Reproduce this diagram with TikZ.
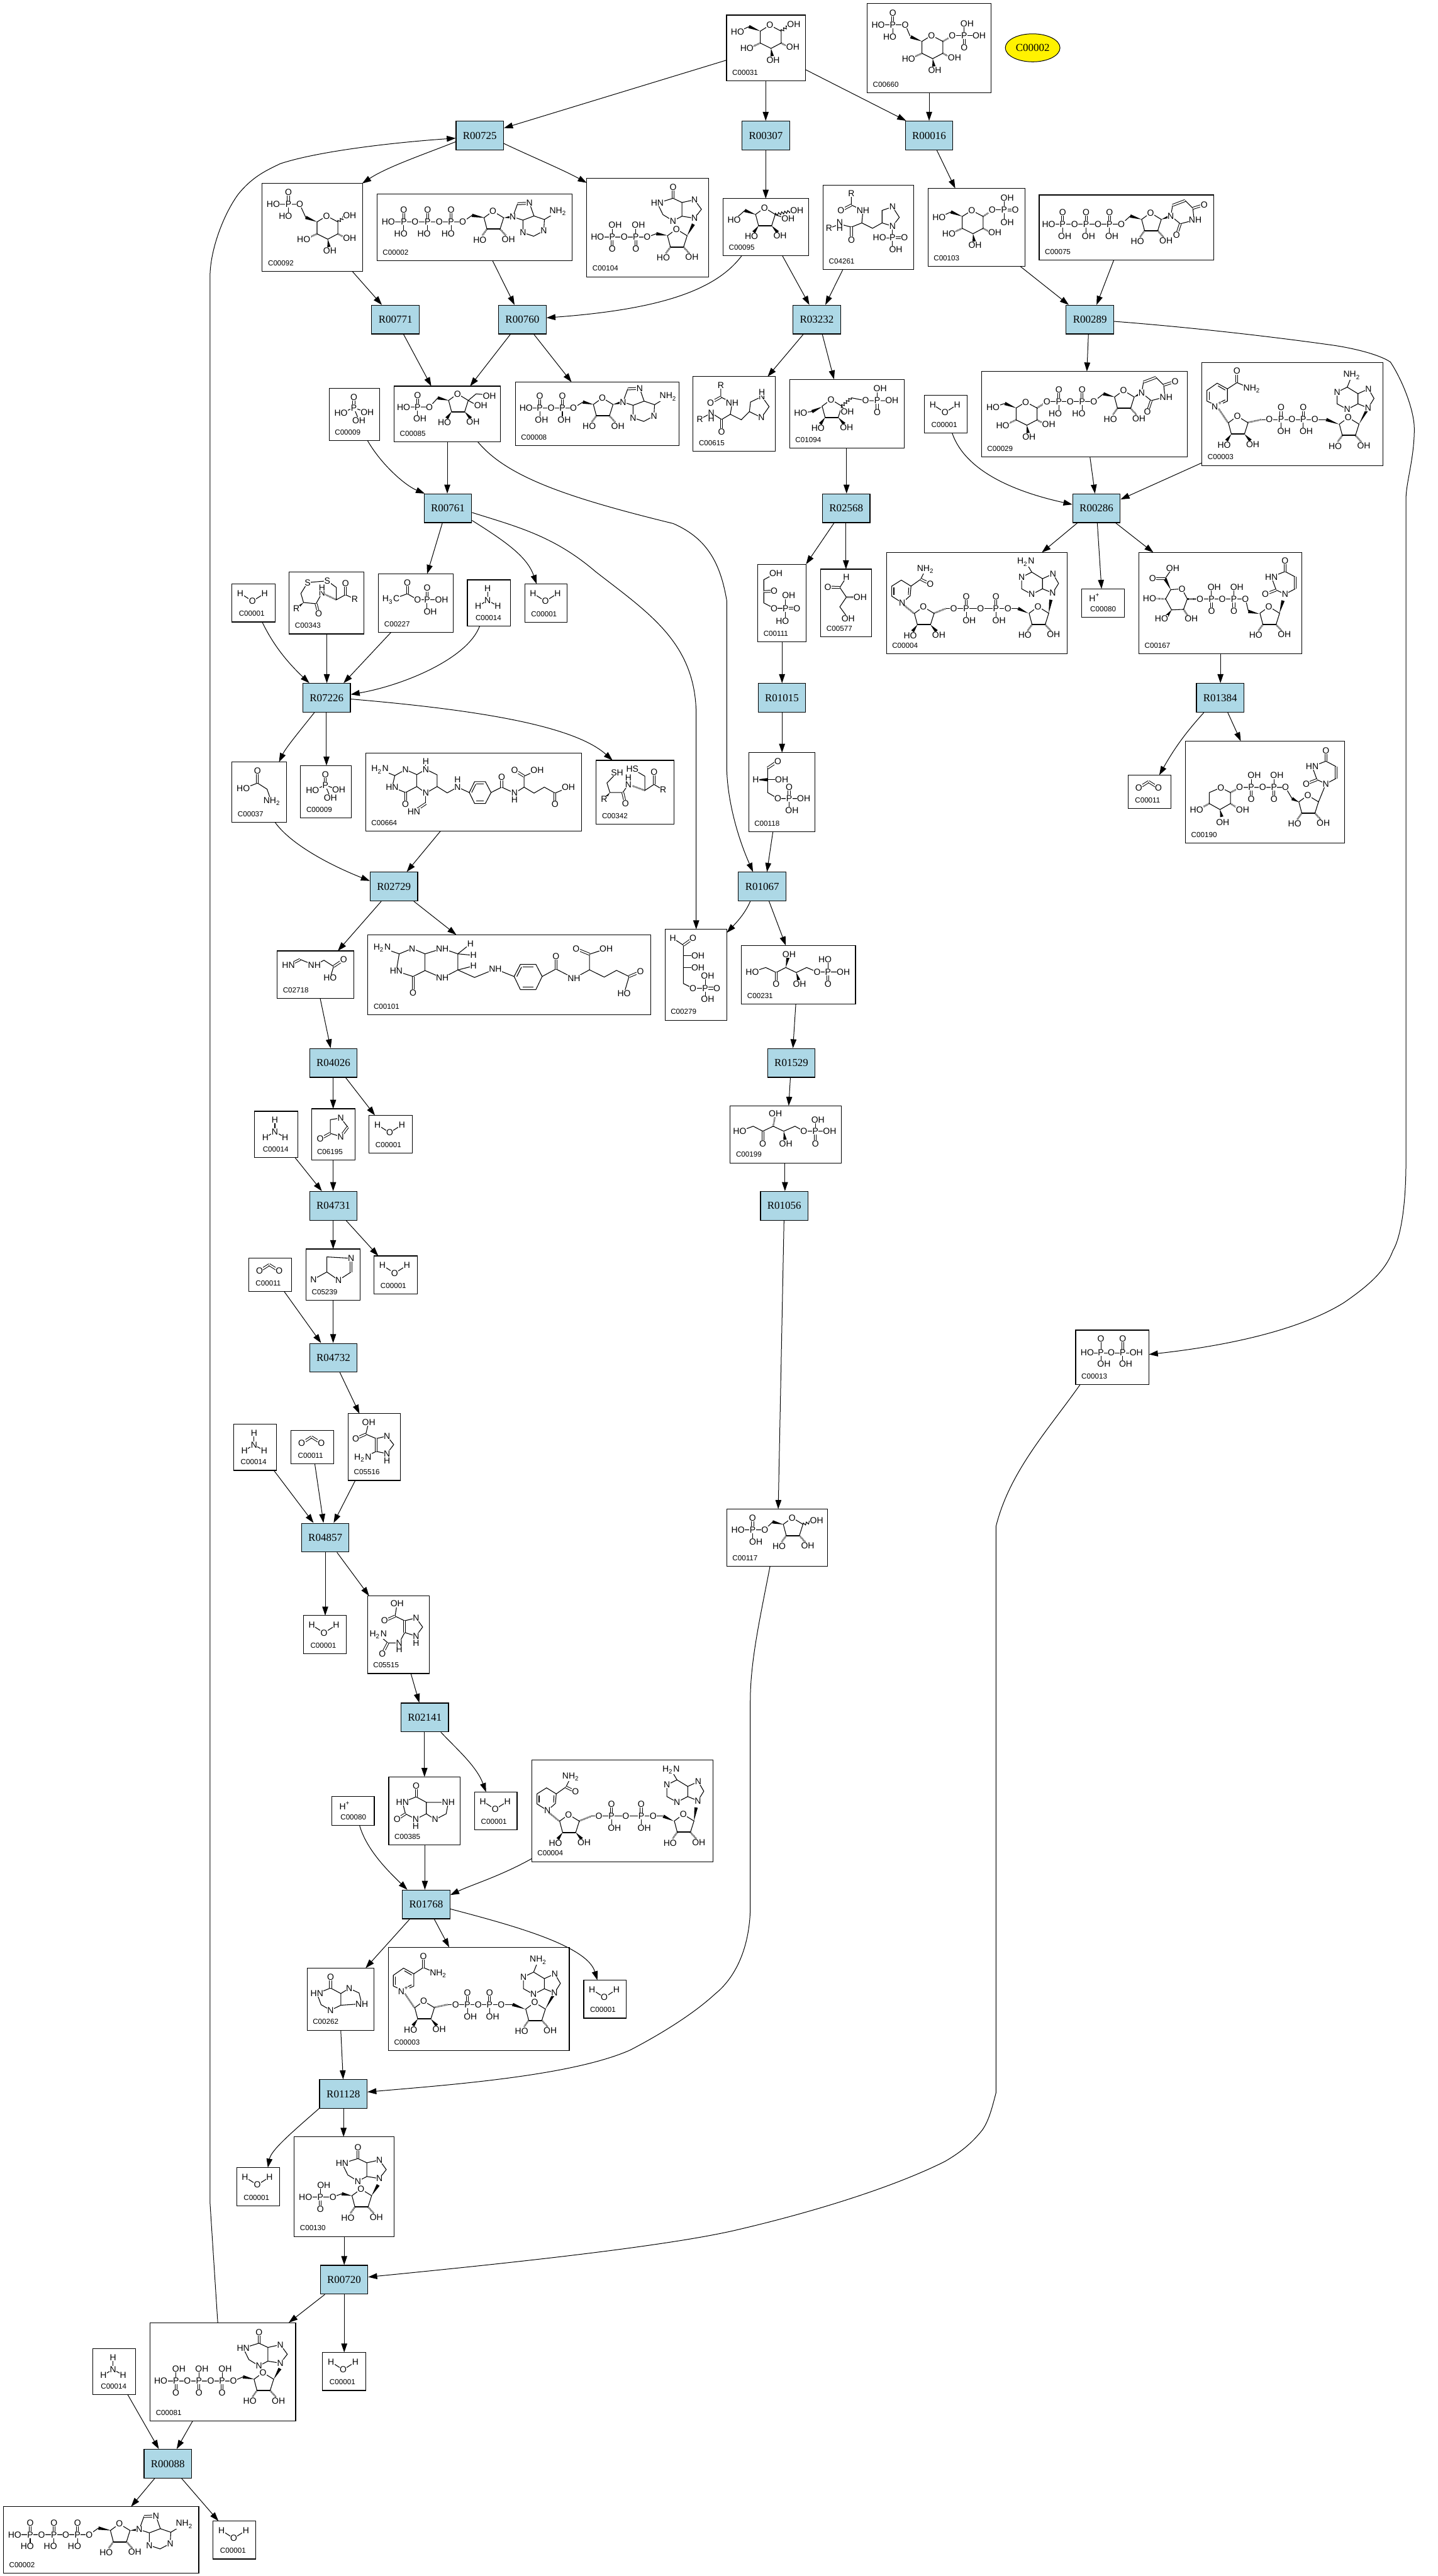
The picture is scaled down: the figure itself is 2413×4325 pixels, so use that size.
\documentclass[tikz,border=0pt]{standalone}
\usepackage{fontspec}
\setmainfont{Liberation Serif}
\newfontfamily\sansf{Liberation Sans}
\usetikzlibrary{arrows.meta,calc,shapes.geometric,decorations.pathmorphing}
\definecolor{rnblue}{HTML}{ADD8E6}
\tikzset{
	rn/.style = {rectangle, draw=black, fill=rnblue, line width=.35pt, inner sep=0, minimum width=.797cm, minimum height=.482cm, font=\fontsize{5.1}{6}\selectfont},
	cp/.style = {rectangle, draw=black, line width=.35pt, inner sep=0, outer sep=0},
	cl/.style = {anchor=west, inner sep=0, font=\fontsize{3.5}{4}\sansf},
	atm/.style = {fill=white, inner sep=.15pt, font=\fontsize{4.2}{5}\sansf},
	bd/.style = {line width=.32pt},
	dbd/.style = {line width=.3pt, double, double distance=.65pt},
	hb/.style = {line width=.8pt, dash pattern=on .2pt off .35pt},
	e/.style = {-{Triangle[length=1.5mm,width=1mm]}, line width=.3pt}
}
\newcounter{atomno}
\newcommand{\atm}[3]{\stepcounter{atomno}\node[atm] (atom\arabic{atomno}) at (#1,#2) {#3};}
\newcommand{\bnd}[1]{\draw[bd] #1;}
\newcommand{\dbnd}[1]{\draw[dbd] #1;}
\newcommand{\wbd}[2]{\fill (#1) -- ($(#2)!.8pt!90:(#1)$) -- ($(#2)!.8pt!-90:(#1)$) -- cycle;}
\newcommand{\hbd}[2]{\draw[hb] (#1) -- (#2);}
\newcommand{\wvy}[2]{\draw[bd,decorate,decoration={zigzag,segment length=1.5pt,amplitude=.6pt}] (#1) -- (#2);}
\newcommand{\ntwo}{NH\textsubscript{2}}
\newcommand{\htwon}{H\textsubscript{2}N}
% === === === Fragments === === ===
\newcommand{\pup}[4]{\dbnd{(#1,#2)--(#1,#2-19)}\bnd{(#1,#2)--(#1,#2+18)}\atm{#1}{#2}{P}\atm{#1}{#2-20}{O}\atm{#1+#3}{#2+20}{#4}}
\newcommand{\pdn}[3]{\dbnd{(#1,#2)--(#1,#2+19)}\bnd{(#1,#2)--(#1,#2-18)}\atm{#1}{#2}{P}\atm{#1}{#2+20}{O}\atm{#1+#3}{#2-20}{OH}}
\newcommand{\fur}[3]{\begin{scope}[shift={(#1,#2)}]
	\bnd{(0,0)--(-15,11)--(-10,30)--(12,30)--(18,11)--cycle}
	\draw[line width=.6pt] (-10,30)--(12,30);
	#3{-10,30}{-18,41} #3{12,30}{22,41}
	\atm{0}{0}{O}\atm{-22}{48}{HO}\atm{26}{47}{OH}
	\end{scope}}
\newcommand{\hx}[2]{\begin{scope}[shift={(#1,#2)}]
	\bnd{(0,0)--(19,10)--(19,30)--(2,39)--(-16,30)--(-16,10)--cycle}
	\wbd{-16,10}{-35,2.4} \hbd{-16,30}{-29,36} \hbd{19,30}{30,36} \wbd{2,39}{4,52}
	\atm{0}{0}{O}\atm{-38.5}{39}{HO}\atm{38.7}{37}{OH}\atm{5.5}{58.4}{OH}
	\end{scope}}
\newcommand{\adnh}[2]{\begin{scope}[shift={(#1,#2)}]
	\bnd{(0,0)--(8,-22)} \dbnd{(8,-22)--(28,-23)}
	\bnd{(28,-23)--(35.5,-1.5)--(17,5.5)--(0,0)}
	\bnd{(35.5,-1.5)--(53,4.5)--(52,23.5)--(35,32.5)--(17,26.5)--(17,5.5)}
	\bnd{(53,4.5)--(72,-7)}
	\atm{0}{0}{N}\atm{28}{-23}{N}\atm{52}{23.5}{N}\atm{17}{26.5}{N}\atm{76}{-9}{\ntwo}
	\end{scope}}
\newcommand{\adnv}[5]{\begin{scope}[shift={(#1,#2)}]
	\bnd{(0,0)--(10,-16)--(.6,-32)--(-17,-24)--(-17,-7)--cycle}
	\bnd{(-17,-24)--(-35,-35)--(-52,-26.6)--(-52,-7)--(-35,2.4)--(-17,-7)}
	\bnd{(-35,-35)--(#3,#4)}
	\atm{0}{0}{N}\atm{.6}{-32}{N}\atm{-35}{2.4}{N}\atm{-52}{-26.6}{N}\atm{#3}{#4}{#5}
	\end{scope}}
\newcommand{\hyp}[2]{\begin{scope}[shift={(#1,#2)}]
	\dbnd{(-36,-52)--(-36,-33.5)}
	\bnd{(-36,-33.5)--(-62.4,-25.3)--(-53,-6)--(-36,4.5)--(-21,-3.4)--(-21,-26.4)--cycle}
	\bnd{(-21,-26.4)--(0,-31)--(11.6,-15)--(0,0)--(-21,-3.4)}
	\atm{-36}{-52}{O}\atm{-62.4}{-25.3}{HN}\atm{-36}{4.5}{N}\atm{0}{-31}{N}\atm{0}{0}{N}
	\end{scope}}
\newcommand{\ura}[2]{\begin{scope}[shift={(#1,#2)}]
	\bnd{(0,0)--(3,-18)} \dbnd{(3,-18)--(24,-26)}
	\bnd{(24,-26)--(37,-13)--(39,7)--(16,13)--(0,0)}
	\dbnd{(37,-13)--(56,-19)} \dbnd{(16,13)--(9.6,32)}
	\atm{0}{0}{N}\atm{56}{-19}{O}\atm{41}{7}{NH}\atm{9.6}{32}{O}
	\end{scope}}
\newcommand{\urb}[2]{\begin{scope}[shift={(#1,#2)}]
	\bnd{(0,0)--(-15,-7)--(-23,-29)--(0,-38)--(17,-29)} \dbnd{(17,-29)--(17,-9)}
	\bnd{(17,-9)--(0,0)}
	\dbnd{(-15,-7)--(-33,0)} \dbnd{(0,-38)--(0,-56)}
	\atm{0}{0}{N}\atm{-33}{0}{O}\atm{-23}{-29}{HN}\atm{0}{-56}{O}
	\end{scope}}
% === === === Molecules === === ===
\newcommand{\mWat}{\bnd{(14,16)--(34.5,29)--(55,16)}\atm{14}{16}{H}\atm{34.5}{29}{O}\atm{55}{16}{H}}
\newcommand{\mAmm}{\bnd{(34,15)--(34,34.5)} \bnd{(18,44)--(34,34.5)--(51,44)}\atm{34}{15}{H}\atm{34}{34.5}{N}\atm{18}{44}{H}\atm{51}{44}{H}}
\newcommand{\mCot}{\dbnd{(18,21.5)--(34.5,11)}\dbnd{(34.5,11)--(51,21.5)}\atm{18}{21.5}{O}\atm{51}{21.5}{O}}
\newcommand{\mHp}{\atm{22}{15}{H\textsuperscript{+}}}
\newcommand{\mPi}{\dbnd{(41.5,15)--(41.5,33)}\bnd{(20,42)--(41.5,33)--(64,41)}\bnd{(41.5,33)--(50,54)}
	\atm{41.5}{15}{O}\atm{41.5}{33}{P}\atm{20}{42}{HO}\atm{64}{41}{OH}\atm{50}{54}{OH}}
\newcommand{\mAtp}{\bnd{(19,47)--(144,47)--(159.5,36)} \wbd{180.6,40}{159.5,36}
	\pup{45}{47}{-5}{HO}\pup{85}{47}{-6}{HO}\pup{124.4}{47}{-5}{HO}
	\atm{19}{47}{HO}\atm{64}{47}{O}\atm{104.6}{47}{O}\atm{144}{47}{O}
	\fur{194.6}{29}{\hbd} \wbd{213,40}{228,38.5} \adnh{228}{38.5}}
\newcommand{\mAdp}{\bnd{(18,43.6)--(97.6,43.6)--(113.5,33.5)} \wbd{131,37.6}{113.5,33.5}
	\pup{41}{43.6}{3}{OH}\pup{79}{43.6}{3}{OH}
	\atm{18}{43.6}{HO}\atm{60}{43.6}{O}\atm{97.6}{43.6}{O}
	\fur{146}{26.6}{\hbd} \wbd{164,37.6}{180.7,33.5} \adnh{180.7}{33.5}}
\newcommand{\mIdp}{\bnd{(18,98.7)--(101.4,98.7)--(116.8,93)} \wbd{135.5,96}{116.8,93}
	\pdn{42.7}{98.7}{5}\pdn{82.3}{98.7}{4.5}
	\atm{18}{98.7}{HO}\atm{63}{98.7}{O}\atm{101.4}{98.7}{O}
	\fur{150.5}{85.4}{\hbd} \wbd{168.5,96.4}{179,77} \hyp{180.9}{67}}
\newcommand{\mImp}{\bnd{(19,101)--(65,101)--(80,95.6)} \wbd{97,99}{80,95.6}
	\pdn{44}{101}{5.8}
	\atm{19}{101}{HO}\atm{65}{101}{O}
	\fur{112}{87.8}{\hbd} \wbd{130,98.8}{141,80.8} \hyp{143}{70}}
\newcommand{\mItp}{\bnd{(18,98)--(140,98)--(156,91)} \wbd{174.5,95}{156,91}
	\pdn{43.4}{98}{5}\pdn{82}{98}{5}\pdn{121}{98}{5}
	\atm{18}{98}{HO}\atm{62.5}{98}{O}\atm{102}{98}{O}\atm{140}{98}{O}
	\fur{189.5}{84}{\hbd} \wbd{207.5,95}{218,77} \hyp{218.8}{68}}
\newcommand{\mGlc}{\bnd{(37.7,19.4)--(18.5,28.5)}\hx{72.7}{17}\wvy{91.7,27}{104,18}\atm{18.5}{28.5}{HO}\atm{113}{16}{OH}}
\newcommand{\mGsx}{\bnd{(18.5,35)--(63,35)--(73,57)}\pup{44}{35}{-5}{HO}\atm{18.5}{35}{HO}\atm{63}{35}{O}
	\hx{108}{54.6}\wvy{127,64.6}{138,56}\atm{146.7}{53.7}{OH}}
\newcommand{\mGop}{\bnd{(18.5,36)--(64,36)--(72,55)}\pup{43}{36}{-5}{HO}\atm{18.5}{36}{HO}\atm{64}{36}{O}
	\hx{108}{54}\hbd{127,64}{141,56}\bnd{(142.8,54.6)--(188,54.6)}\pdn{162.8}{54.6}{5}\atm{142.8}{54.6}{O}\atm{188}{54.6}{OH}}
\newcommand{\mGip}{\bnd{(38.6,39.4)--(18.6,49)}\hx{73.6}{37}\hbd{92.6,47}{106,38}
	\bnd{(107.8,36)--(128,36)}\dbnd{(128,36)--(146.6,36)}\bnd{(128,36)--(128,18)}\bnd{(128,36)--(128,55)}
	\atm{18.6}{49}{HO}\atm{107.8}{36}{O}\atm{128}{36}{P}\atm{146.6}{36}{O}\atm{133}{15.6}{OH}\atm{133}{57.4}{OH}}
\newcommand{\mFru}{\bnd{(18.5,36)--(36.4,20)}\wbd{55,27}{36.4,20}\fur{69.5}{15.6}{\wbd}\wvy{87,27}{114,21}\bnd{(87,27)--(105,33)}
	\atm{18.5}{36}{HO}\atm{123.8}{20}{OH}\atm{109}{34}{OH}}
\newcommand{\mFsx}{\bnd{(16,35)--(59.3,35)--(73.4,19.7)}\wbd{92,24}{73.4,19.7}\pup{39.5}{35}{3.9}{OH}\atm{16}{35}{HO}\atm{59.3}{35}{O}
	\fur{106.5}{12.9}{\wbd}\bnd{(124.5,24)--(137.7,12.9)--(150,14)}\bnd{(124.5,24)--(137,31)}\atm{160}{16}{OH}\atm{145.5}{32.6}{OH}}
\newcommand{\mFop}{\bnd{(18.6,56)--(37.6,54.2)}\wbd{54.6,46}{37.6,54.2}\fur{69.6}{34}{\wbd}
	\wvy{87.6,45}{103.6,31}\bnd{(103.6,31)--(127.6,35.8)--(171.6,35.8)}\bnd{(87.6,45)--(92,52)}\pdn{147}{35.8}{5}
	\atm{18.6}{56}{HO}\atm{97}{54}{OH}\atm{127.6}{35.8}{O}\atm{171.6}{35.8}{OH}}
\newcommand{\mUtp}{\bnd{(16,49)--(138,49)--(153,35.3)}\wbd{172,41}{153,35.3}
	\pup{39.5}{49}{3.5}{OH}\pup{78.8}{49}{4}{OH}\pup{118}{49}{4}{OH}
	\atm{16}{49}{HO}\atm{59.4}{49}{O}\atm{98.8}{49}{O}\atm{138}{49}{O}
	\fur{187}{30}{\hbd}\wbd{205,41}{221,35.3}\ura{221}{35.3}}
\newcommand{\mUdg}{\bnd{(110,50.5)--(188.6,50.5)--(204.8,37.6)}\bnd{(39,53.8)--(19.4,60.6)}\wbd{223.4,43}{204.8,37.6}
	\hx{74.3}{51.4}\hbd{93.3,61.4}{108,52}
	\pup{130}{50.5}{-6}{HO}\pup{169}{50.5}{-5.6}{HO}
	\atm{19.4}{60.6}{HO}\atm{110}{50.5}{O}\atm{149}{50.5}{O}\atm{188.6}{50.5}{O}
	\fur{238.4}{32}{\hbd}\wbd{256.4,43}{269,36}\ura{269}{36}}
\newcommand{\mNad}{\bnd{(8.3,47)--(25.5,35)--(42.7,44.5)--(42.7,65)--(25.5,73)--(8.3,65)--cycle}
	\bnd{(12,49)--(12,63)}\bnd{(27,39.5)--(39,46.5)}\bnd{(39,63)--(29,68)}
	\bnd{(42.7,44.5)--(58.7,34)--(80,43)}\dbnd{(58.7,34)--(58.7,15)}
	\atm{58.7}{14.7}{O}\atm{84}{44.5}{\ntwo}\atm{25.5}{73}{N\textsuperscript{+}}
	\hbd{28,78}{43.4,101}\fur{59.3}{90.4}{\wbd}
	\hbd{77,101}{100,96}\bnd{(100,96)--(208.6,96)}\wbd{230,104}{208.6,96}
	\pup{132.7}{96}{5}{OH}\pup{170}{96}{5}{OH}\atm{113}{96}{O}\atm{151}{96}{O}\atm{189.5}{96}{O}
	\fur{245.6}{92.7}{\hbd}\wbd{263.6,103.7}{278.8,76.6}\adnv{278.8}{76.6}{-27}{-55}{\ntwo}}
\newcommand{\mNadh}{\bnd{(9,56.5)--(25,46.4)--(41.3,56.5)--(40,72.5)--(26.5,84.5)--(9,73.4)--cycle}
	\bnd{(12.5,59)--(12.5,71)}\bnd{(37.5,59)--(36.8,71)}
	\bnd{(41.3,56.5)--(57.5,45)--(64,32)}\dbnd{(57.5,45)--(73.6,52.8)}
	\atm{65.9}{28}{\ntwo}\atm{73.6}{52.8}{O}\atm{26.5}{84.5}{N}
	\hbd{29,88}{46,102}\fur{62}{91.3}{\wbd}
	\hbd{80,102}{100,94}\bnd{(100,94)--(221,94)}\wbd{238,102}{221,94}
	\pup{134}{94}{5}{OH}\pup{184}{94}{5}{OH}\atm{113}{94}{O}\atm{158}{94}{O}\atm{204}{94}{O}
	\fur{254.5}{91}{\hbd}\wbd{272.5,102}{276,79.4}\adnv{279}{68}{-45}{-52}{\htwon}}
\newcommand{\mUga}{\bnd{(53.6,62.4)--(72.4,61)--(81.4,78)--(75,95.5)--(55,96.4)--(45,78)--cycle}
	\wbd{53.6,62.4}{44,44}\bnd{(44,44)--(53,31)}\dbnd{(44,44)--(23,43.6)}\hbd{45,78}{29,77.5}\wbd{55,96.4}{47,107}\hbd{75,95.5}{82,106}
	\atm{72.4}{61}{O}\atm{57}{26.6}{OH}\atm{23}{43.6}{O}\atm{18}{77}{HO}\atm{38}{111}{HO}\atm{88}{111.5}{OH}
	\hbd{81.4,78}{100,78}\bnd{(102,78)--(179,78)--(184,99)}\wbd{202,103}{184,99}
	\pdn{122}{78}{4.6}\pdn{159.6}{78}{5}\atm{102.7}{78}{O}\atm{140}{78}{O}\atm{179}{78}{O}
	\fur{218.3}{91}{\hbd}\wbd{236,102}{242,80.8}\urb{245.5}{70}}
\newcommand{\mUdx}{\bnd{(59.4,78)--(40,86.3)--(40,104.7)--(58,114.8)--(75.6,104.7)--(75.6,86.3)--cycle}
	\hbd{40,104.7}{27,112}\hbd{75.6,104.7}{87,112}\wbd{58,114.8}{61,127}
	\atm{59.4}{78}{O}\atm{18.7}{115.2}{HO}\atm{96}{115.2}{OH}\atm{62.7}{135.9}{OH}
	\hbd{75.6,86.3}{89,79}\bnd{(91,77.6)--(168,77.6)--(179,96.4)}\wbd{190.6,102.4}{179,96.4}
	\pdn{110.5}{77.6}{5}\pdn{148.6}{77.6}{5}\atm{91}{77.6}{O}\atm{129.8}{77.6}{O}\atm{168}{77.6}{O}
	\fur{205.4}{90.9}{\hbd}\bnd{(223.4,102)--(235.8,71.6)}\urb{235.8}{71.6}}
\newcommand{\mRibp}{\bnd{(19,35)--(64,35)--(77,21.6)}\wbd{95,26}{77,21.6}\pup{43.5}{35}{5.5}{OH}\atm{19}{35}{HO}\atm{64}{35}{O}
	\fur{110}{14.7}{\hbd}\wvy{128,26}{144,21}\atm{151}{19.8}{OH}}
\newcommand{\mPpi}{\bnd{(19.4,38)--(101.6,38)}\dbnd{(79,38)--(79,15)}\bnd{(42.3,38)--(42.3,15)}\bnd{(42.3,38)--(42.3,55)}\bnd{(79,38)--(79,55)}
	\atm{19.4}{38}{HO}\atm{42.3}{38}{P}\atm{42.3}{14.7}{O}\atm{47.4}{56.7}{OH}\atm{59.6}{38}{O}\atm{79}{38}{P}\atm{79}{14.7}{O}\atm{101.6}{38}{OH}\atm{84}{56.7}{OH}}
\newcommand{\mAhis}{\bnd{(46.6,15)--(46.6,34.4)--(65.6,44)--(62.5,63.3)--(47.9,72)--(30.6,61)--(11.5,71.6)}
	\dbnd{(46.6,34.4)--(29.3,44)}\dbnd{(47.9,72)--(47.9,92)}
	\bnd{(62.5,63.3)--(81,72.5)--(94.5,58.8)--(96.4,42.7)--(115.5,33.5)--(127.6,50.5)--(114.8,68.8)--(94.5,58.8)}\bnd{(115.5,33.5)--(115.5,27)}
	\atm{46.6}{15}{R}\atm{29.3}{44}{O}\atm{65.6}{44}{NH}\atm{30.6}{61}{N}\atm{30.6}{71}{H}\atm{11.5}{71.6}{R}\atm{47.9}{92.3}{O}
	\atm{115.5}{33.5}{N}\atm{115.5}{26.6}{H}\atm{114.8}{68.8}{N}}
\newcommand{\mPhis}{\bnd{(47.5,13.3)--(47.5,33)--(67,42)--(65,63)--(47.5,70)--(28,65)--(10,72)}
	\dbnd{(47.5,33)--(30,42)}\dbnd{(47.5,70)--(47.5,92)}
	\bnd{(65,63)--(83,72)--(99,63)--(99,42)--(116.6,36)--(128,53.7)--(116.6,68.4)--(99,63)}
	\bnd{(116.6,68.4)--(116.6,108)}\bnd{(94.7,88)--(116.6,88)}\dbnd{(116.6,88)--(136.7,88)}
	\atm{47.5}{13.3}{R}\atm{30}{42}{O}\atm{67}{42}{NH}\atm{28}{62}{N}\atm{28}{72}{H}\atm{10}{72}{R}\atm{47.5}{92}{O}
	\atm{116.6}{36}{N}\atm{116.6}{68.4}{N}\atm{116.6}{88}{P}\atm{94.7}{88}{HO}\atm{136.7}{88}{O}\atm{122}{108}{OH}}
\newcommand{\mDisu}{\bnd{(31,17.4)--(64,14.7)--(79,25.7)--(79,46.4)--(94.4,38)--(110,45)}\bnd{(31,17.4)--(19.6,35.8)--(24,51)--(45,53)--(55,35)}
	\hbd{55,35}{79,46.4}\wbd{24,51}{12,61.5}\dbnd{(45,53)--(49.5,69.3)}\dbnd{(94.4,38)--(94.4,19.3)}
	\atm{31}{17.4}{S}\atm{64}{14.7}{S}\atm{12}{61.5}{R}\atm{49.5}{69.3}{O}\atm{55}{35}{N}\atm{55}{26}{H}\atm{94.4}{19.3}{O}\atm{110}{45}{R}}
\newcommand{\mAcp}{\bnd{(21,43.6)--(48.5,33.5)--(65.7,43.6)--(106,43.6)}\dbnd{(48.5,33.5)--(48.5,15)}\dbnd{(81.6,43.6)--(81.6,24)}\bnd{(81.6,43.6)--(81.6,62)}
	\atm{21}{43.6}{H\textsubscript{3}C}\atm{48.5}{15}{O}\atm{65.7}{43.6}{O}\atm{81.6}{43.6}{P}\atm{81.6}{24}{O}\atm{106}{43.6}{OH}\atm{87}{64}{OH}}
\newcommand{\mGly}{\bnd{(19,44.6)--(43,35.4)--(59,45.6)--(64,60)}\dbnd{(43,35.4)--(43,15)}\atm{43}{15}{O}\atm{19}{44.6}{HO}\atm{67.4}{66}{\ntwo}}
\newcommand{\mThf}{\bnd{(24.2,27.5)--(49,37.6)--(67,27.5)--(86,36)--(101,27)--(120,36.3)--(120,56)--(101,67)--(86,56)--(67,66)--(44.6,57)--(49,37.6)}\bnd{(86,36)--(86,56)}
	\dbnd{(67,66)--(67,85.4)}\bnd{(101,67)--(101,84.5)}\dbnd{(101,84.5)--(81,98)}\bnd{(101,27)--(101,14)}
	\bnd{(120,56)--(137,66.6)--(154.4,57)--(174,66)}
	\bnd{(174,66)--(183,47.7)--(201,47.7)--(210.6,66)--(201,84.5)--(183,84.5)--cycle}\bnd{(186,52)--(198,52)}\bnd{(186,80)--(198,80)}\bnd{(178,66)--(185,52)}
	\bnd{(210.6,66)--(228.4,57)--(250,67)--(266,57)--(282.7,67)--(300,57)--(318,67)--(340.4,57.4)}\dbnd{(228.4,57)--(228.4,40.4)}\bnd{(266,57)--(266,38.6)--(288,28.5)}\dbnd{(266,38.6)--(250,28.5)}\dbnd{(318,67)--(318,86)}
	\atm{24.2}{27.5}{\htwon}\atm{67}{27.5}{N}\atm{101}{14}{H}\atm{101}{27}{N}\atm{44.6}{57}{HN}\atm{67}{85.4}{O}\atm{101}{67}{N}\atm{81}{98}{HN}
	\atm{154.4}{57}{N}\atm{154.4}{44}{H}\atm{228.4}{40.4}{O}\atm{250}{67}{N}\atm{250}{78}{H}\atm{250}{28.5}{O}\atm{288}{28.5}{OH}\atm{340.4}{57.4}{OH}\atm{318}{86}{O}}
\newcommand{\mThfb}{\bnd{(24,22)--(52.6,32)--(74.4,23)--(96,32)--(125,23)--(151,32)--(151,59)--(125,72.5)--(96,60)--(75.8,70)--(47.7,61)--(52.6,32)}\bnd{(96,32)--(96,60)}
	\dbnd{(75.8,70)--(75.8,97)}\bnd{(151,32)--(172.3,15)}\bnd{(151,32)--(177.2,34.4)}\bnd{(151,59)--(177.2,52.3)}
	\bnd{(151,59)--(179,71.6)--(214,57.4)--(245.5,70)}
	\bnd{(245.5,70)--(256,49.6)--(282,49.6)--(292.5,70)--(282,92)--(256,92)--cycle}\bnd{(260,54)--(278,54)}\bnd{(260,88)--(278,88)}\bnd{(250,70)--(258,54)}
	\bnd{(292.5,70)--(315.7,57.4)--(346,73)--(372,58.8)--(396.7,71)--(417.4,59.7)--(438.4,70)--(430,98.7)}\dbnd{(315.7,57.4)--(315.7,36)}\bnd{(372,58.8)--(372,32.6)--(400,23.4)}\dbnd{(372,32.6)--(349.4,23.4)}\dbnd{(438.4,70)--(457.4,62)}
	\atm{24}{22}{\htwon}\atm{74.4}{23}{N}\atm{125}{23}{NH}\atm{125}{72.5}{NH}\atm{47.7}{61}{HN}\atm{75.8}{97}{O}\atm{172.3}{15}{H}\atm{177.2}{34.4}{H}\atm{177.2}{52.3}{H}\atm{214}{57.4}{NH}
	\atm{315.7}{36}{O}\atm{346}{73}{NH}\atm{349.4}{23.4}{O}\atm{400}{23.4}{OH}\atm{457.4}{62}{O}\atm{430}{98.7}{HO}}
\newcommand{\mFig}{\dbnd{(19,24)--(38.6,14.2)}\bnd{(38.6,14.2)--(62.5,24)--(78.6,15.6)--(94.8,26)--(89,45.4)}\dbnd{(94.8,26)--(111.6,14.7)}
	\atm{19}{24}{HN}\atm{62.5}{24}{NH}\atm{111.6}{14.7}{O}\atm{89}{45.4}{HO}}
\newcommand{\mRedu}{\bnd{(35,20.6)--(18,38)--(23,54)--(44.6,54)--(54,40.4)}\hbd{54,40.4}{81.6,50.5}\wbd{23,54}{13.4,65.6}\dbnd{(44.6,54)--(49,72.5)}
	\bnd{(60.6,14.2)--(81.6,26.6)--(81.6,50.5)--(97,40.4)--(112.3,49.6)}\dbnd{(97,40.4)--(97,20)}
	\atm{35}{20.6}{SH}\atm{13.4}{65.6}{R}\atm{49}{72.5}{O}\atm{54}{40.4}{N}\atm{54}{29}{H}\atm{60.6}{14.2}{HS}\atm{97}{20}{O}\atm{112.3}{49.6}{R}}
\newcommand{\mDhap}{\bnd{(30.6,15)--(10.2,26)--(10.2,65)--(27.4,74)--(46.6,74)}\dbnd{(10.2,46)--(27.4,45)}\dbnd{(46.6,74)--(65.7,74)}\bnd{(46.6,74)--(46.6,55)}\bnd{(46.6,74)--(46.6,93)}
	\atm{30.6}{15}{OH}\atm{27.4}{45}{O}\atm{27.4}{74}{O}\atm{46.6}{74}{P}\atm{65.7}{74}{O}\atm{52}{52.8}{OH}\atm{41.5}{95.5}{HO}}
\newcommand{\mGlyc}{\bnd{(43,13.3)--(32,30.8)--(43,47)--(32,63.3)--(46,82.6)}\dbnd{(32,30.8)--(12,30)}\hbd{43,47}{58,47}
	\atm{43}{13.3}{H}\atm{12}{30}{O}\atm{66.2}{47}{OH}\atm{46}{82.6}{OH}}
\newcommand{\mGap}{\dbnd{(49,14.2)--(32,25.7)}\bnd{(32,25.7)--(32,67)--(49,77)--(92.5,77)}\wbd{12,45.4}{32,45.4}\bnd{(32,45.4)--(55.5,45.4)}\dbnd{(68,77)--(68,57.8)}\bnd{(68,77)--(68,95)}
	\atm{49}{14.2}{O}\atm{12}{45.4}{H}\atm{55.5}{45.4}{OH}\atm{49}{77}{O}\atm{68}{77}{P}\atm{68}{57.8}{O}\atm{92.5}{77}{OH}\atm{72.7}{96.8}{OH}}
\newcommand{\mEryp}{\bnd{(13.3,15)--(30.9,26.6)--(30.9,91)--(47,99)--(67.6,99)}\dbnd{(30.9,26.6)--(47,15)}\bnd{(30.9,44)--(55.4,44)}\bnd{(30.9,64)--(55.4,64)}\dbnd{(67.6,99)--(87,99)}\bnd{(67.6,99)--(67.6,117)}\bnd{(67.6,99)--(67.6,80)}
	\atm{13.3}{15}{H}\atm{47}{15}{O}\atm{55.4}{44}{OH}\atm{55.4}{64}{OH}\atm{47}{99}{O}\atm{67.6}{99}{P}\atm{87}{99}{O}\atm{71.6}{78.5}{OH}\atm{71.6}{117.5}{OH}}
\newcommand{\mRulp}{\bnd{(18.2,44.5)--(40.7,37)--(58.2,45.4)--(74.4,37)--(92,45.4)--(109.4,37)--(127,44.5)--(171,44.5)}\dbnd{(58.2,45.4)--(58.2,65)}\wbd{74.4,37}{78,20}\wbd{92,45.4}{96,58}\dbnd{(145.2,44.5)--(145.2,64.7)}\bnd{(145.2,44.5)--(145.2,26)}
	\atm{18.2}{44.5}{HO}\atm{58.2}{65}{O}\atm{80}{14.7}{OH}\atm{97.5}{64.7}{OH}\atm{127}{44.5}{O}\atm{145.2}{44.5}{P}\atm{140.3}{23.9}{HO}\atm{145.2}{64.7}{O}\atm{171}{44.5}{OH}}
\newcommand{\mXulp}{\bnd{(16,42.7)--(38.6,34.4)--(54.7,42.7)--(72.2,34.4)--(89.8,42.7)--(108.8,34.4)--(123.5,42.7)--(167,42.7)}\dbnd{(54.7,42.7)--(54.7,63.4)}\hbd{72.2,34.4}{75,19}\wbd{89.8,42.7}{92,57}\dbnd{(143,42.7)--(143,63.4)}\bnd{(143,42.7)--(143,26)}
	\atm{16}{42.7}{HO}\atm{54.7}{63.4}{O}\atm{75.8}{13.3}{OH}\atm{93.3}{63.4}{OH}\atm{123.5}{42.7}{O}\atm{143}{42.7}{P}\atm{147.3}{23.4}{OH}\atm{143}{63.4}{O}\atm{167}{42.7}{OH}}
\newcommand{\mImo}{\bnd{(48.4,15.6)--(30.9,18.4)--(30.9,41.3)--(48.4,46.8)}\dbnd{(48.4,46.8)--(60.3,30.8)}\bnd{(60.3,30.8)--(48.4,15.6)}\dbnd{(30.9,41.3)--(14,50.5)}
	\atm{48.4}{15.6}{N}\atm{14}{50.5}{O}\atm{48.4}{46.8}{N}}
\newcommand{\mAim}{\bnd{(75.8,15.6)--(35,13.3)--(35,38.6)--(54.7,52.3)--(75.8,38.6)}\dbnd{(75.8,38.6)--(75.8,15.6)}\bnd{(35,38.6)--(12.6,51)}
	\atm{75.8}{15.6}{N}\atm{12.6}{51}{N}\atm{54.7}{52.3}{N}}
\newcommand{\mAica}{\bnd{(34.4,14.2)--(29.5,34.4)--(47,41.8)--(65,37.6)--(76.4,51.9)--(65,67)--(47,63.4)--(24.6,74)}\dbnd{(29.5,34.4)--(12.6,41.8)}\dbnd{(47,41.8)--(47,63.4)}\bnd{(65,67)--(65,79)}
	\atm{34.4}{14.2}{OH}\atm{12.6}{41.8}{O}\atm{65}{37.6}{N}\atm{65}{67}{N}\atm{65}{79}{H}\atm{24.6}{74}{\htwon}}
\newcommand{\mUica}{\bnd{(49.8,13.3)--(46.3,34)--(62.5,41.8)--(81.5,37)--(92.6,52.3)--(81.5,67.5)--(62.5,61.5)--(53.3,79)--(34.4,79)--(18,65)}\dbnd{(46.3,34)--(28.8,41.8)}\dbnd{(62.5,41.8)--(62.5,61.5)}\dbnd{(34.4,79)--(25,97)}\bnd{(81.5,67.5)--(81.5,79)}\bnd{(53.3,79)--(53.3,90)}
	\atm{49.8}{13.3}{OH}\atm{28.8}{41.8}{O}\atm{81.5}{37}{N}\atm{81.5}{67.5}{N}\atm{81.5}{79}{H}\atm{53.3}{79}{N}\atm{53.3}{90.4}{H}\atm{18}{65}{\htwon}\atm{25}{97}{O}}
\newcommand{\mXan}{\bnd{(46,33.5)--(23,42.7)--(28,62)--(45.3,71)--(63,62)--(63,42.7)--cycle}\dbnd{(46,15)--(46,33.5)}\dbnd{(28,62)--(14,71)}\bnd{(45.3,71)--(45.3,82.7)}
	\bnd{(63,42.7)--(100,42.7)--(96.3,62)--(77.8,71.6)--(63,62)}
	\atm{46}{15}{O}\atm{23}{42.7}{HN}\atm{14}{71}{O}\atm{45.3}{71}{N}\atm{45.3}{82.7}{H}\atm{100}{42.7}{NH}\atm{77.8}{71.6}{N}}
\newcommand{\mHyp}{\bnd{(39.5,33.5)--(16.6,42.7)--(23.6,61.5)--(39.5,70.7)--(56.7,62.4)--(56.7,42.7)--cycle}\dbnd{(39.5,15)--(39.5,33.5)}
	\bnd{(56.7,42.7)--(70.7,34)--(87.3,41.8)--(91.9,60)--(56.7,62.4)}
	\atm{39.5}{15}{O}\atm{16.6}{42.7}{HN}\atm{39.5}{70.7}{N}\atm{70.7}{34}{N}\atm{91.9}{60}{NH}}
% node name, box corners, molecule; [#1] is the distance of the label from the left side
\newcommand{\cpd}[8][9]{%
	\pgfmathsetmacro{\cw}{#6-#4}\pgfmathsetmacro{\ch}{#7-#5}
	\pgfmathsetmacro{\cx}{(#4+#6)/2}\pgfmathsetmacro{\cy}{(#5+#7)/2}
	\node[cp, minimum width=\cw*0.01cm, minimum height=\ch*0.01cm] (#2) at (\cx,\cy) {};
	\node[cl] (#2-l) at (#4+#1,#7-14) {#3};
	\begin{scope}[shift={(#4,#5)}]#8\end{scope}}
\begin{document}
\begin{tikzpicture}[x=.01cm, y=-.01cm]
	\useasboundingbox (0,0) rectangle (2413,4325);
	
	% === === === Reactions === === ===
	\node[rn]	(R00725)	at	(805.4, 227.5)	{R00725};
	\node[rn]	(R00307)	at	(1285.5, 227.5)	{R00307};
	\node[rn]	(R00016)	at	(1559.5, 227.5)	{R00016};
	\node[rn]	(R00771)	at	(663.8, 536.6)	{R00771};
	\node[rn]	(R00760)	at	(876.8, 536.6)	{R00760};
	\node[rn]	(R03232)	at	(1371, 536.6)	{R03232};
	\node[rn]	(R00289)	at	(1829.5, 536.6)	{R00289};
	\node[rn]	(R00761)	at	(751.8, 853.4)	{R00761};
	\node[rn]	(R02568)	at	(1420.5, 853.4)	{R02568};
	\node[rn]	(R00286)	at	(1840.5, 853.4)	{R00286};
	\node[rn]	(R07226)	at	(548.3, 1171.6)	{R07226};
	\node[rn]	(R01015)	at	(1312.4, 1171.6)	{R01015};
	\node[rn]	(R01384)	at	(2048.2, 1171.6)	{R01384};
	\node[rn]	(R02729)	at	(661.3, 1488.5)	{R02729};
	\node[rn]	(R01067)	at	(1279.4, 1488.5)	{R01067};
	\node[rn]	(R04026)	at	(559.6, 1784.6)	{R04026};
	\node[rn]	(R01529)	at	(1328.4, 1784.6)	{R01529};
	\node[rn]	(R04731)	at	(559.6, 2024.5)	{R04731};
	\node[rn]	(R01056)	at	(1316.5, 2024.5)	{R01056};
	\node[rn]	(R04732)	at	(559.6, 2279.6)	{R04732};
	\node[rn]	(R04857)	at	(546, 2581.6)	{R04857};
	\node[rn]	(R02141)	at	(712.9, 2883.5)	{R02141};
	\node[rn]	(R01768)	at	(715.4, 3197.5)	{R01768};
	\node[rn]	(R01128)	at	(576.3, 3515.8)	{R01128};
	\node[rn]	(R00720)	at	(577.6, 3827.5)	{R00720};
	\node[rn]	(R00088)	at	(281.6, 4136.4)	{R00088};
	\node[draw, ellipse, fill=yellow, line width=.3pt, inner sep=0, minimum width=.917cm, minimum height=.47cm, font=\fontsize{5.1}{6}\selectfont] (key) at (1733.4, 80.3) {C00002};
	
	% === === === Compounds === === ===
	\cpd{C00031}{C00031}{1219.5}{25.3}{1352.2}{135.5}{\mGlc}
	\cpd{C00660}{C00660}{1455.6}{5.5}{1663.6}{155.7}{\mGop}
	\cpd{C00092}{C00092}{440.2}{308}{608.6}{455.5}{\mGsx}
	\cpd{C00002}{C00002}{632.8}{325.6}{960.6}{437.6}{\mAtp}
	\cpd{C00104}{C00104}{984.9}{299.4}{1189.6}{464.7}{\mIdp}
	\cpd{C00095}{C00095}{1213.8}{333.4}{1357.3}{429.4}{\mFru}
	\cpd{C04261}{C04261}{1381.6}{311.3}{1533.7}{452.3}{\mPhis}
	\cpd{C00103}{C00103}{1557.6}{316.4}{1720.4}{447.3}{\mGip}
	\cpd{C00075}{C00075}{1744.3}{327.4}{2037.6}{436.7}{\mUtp}
	\cpd{C00009-1}{C00009}{552.4}{651.6}{637.3}{739.7}{\mPi}
	\cpd{C00085}{C00085}{661.5}{648.4}{840.1}{741.6}{\mFsx}
	\cpd{C00008}{C00008}{865}{641.5}{1139.9}{748.5}{\mAdp}
	\cpd{C00615}{C00615}{1163.4}{632.3}{1301.2}{757.7}{\mAhis}
	\cpd{C01094}{C01094}{1325.4}{636.9}{1517.6}{752.6}{\mFop}
	\cpd[11]{C00001-1}{C00001}{1551.8}{663.5}{1623.5}{727.3}{\mWat}
	\cpd{C00029}{C00029}{1647.4}{623.6}{1993}{767.3}{\mUdg}
	\cpd{C00003-1}{C00003}{2017.6}{608.4}{2321.2}{781.5}{\mNad}
	\cpd[11]{C00001-2}{C00001}{389.3}{980.3}{461.7}{1044.3}{\mWat}
	\cpd{C00343}{C00343}{485.5}{960.6}{611.1}{1064.4}{\mDisu}
	\cpd{C00227}{C00227}{635.3}{963.4}{760.4}{1061.6}{\mAcp}
	\cpd[13]{C00014-1}{C00014}{784.6}{973.5}{856.7}{1051.5}{\mAmm}
	\cpd[10]{C00001-3}{C00001}{880.9}{980.4}{952.3}{1044.7}{\mWat}
	\cpd{C00111}{C00111}{1271.9}{947.3}{1353.5}{1077.3}{\mDhap}
	\cpd{C00577}{C00577}{1377.7}{955.6}{1463.3}{1069.5}{\mGlyc}
	\cpd{C00004-1}{C00004}{1487.9}{927.6}{1791.5}{1097.5}{\mNadh}
	\cpd[14]{C00080-1}{C00080}{1815.4}{988.6}{1887}{1036.4}{\mHp}
	\cpd{C00167}{C00167}{1911.6}{927.6}{2185.5}{1097.5}{\mUga}
	\cpd{C00037}{C00037}{389.3}{1279.4}{480.7}{1380.7}{\mGly}
	\cpd{C00009-2}{C00009}{504.6}{1285.3}{589.4}{1373.4}{\mPi}
	\cpd{C00664}{C00664}{613.7}{1264.6}{976.6}{1395.5}{\mThf}
	\cpd{C00342}{C00342}{1000.8}{1276.6}{1131.6}{1383.6}{\mRedu}
	\cpd{C00118}{C00118}{1256.6}{1263.7}{1368.2}{1396.4}{\mGap}
	\cpd[11]{C00011-1}{C00011}{1893.5}{1301.3}{1965.3}{1357.4}{\mCot}
	\cpd{C00190}{C00190}{1989.8}{1244.4}{2256.6}{1415.7}{\mUdx}
	\cpd{C02718}{C02718}{465.2}{1596.6}{593.6}{1676.5}{\mFig}
	\cpd{C00101}{C00101}{617.5}{1569.5}{1092.4}{1703.6}{\mThfb}
	\cpd{C00279}{C00279}{1116.2}{1560.3}{1220}{1712.8}{\mEryp}
	\cpd{C00231}{C00231}{1244.6}{1587.4}{1436}{1685.7}{\mRulp}
	\cpd[13]{C00014-2}{C00014}{427.4}{1865.7}{499.6}{1943.7}{\mAmm}
	\cpd[8]{C06195}{C06195}{523.5}{1861.5}{595.7}{1947.4}{\mImo}
	\cpd[10]{C00001-4}{C00001}{619.6}{1872.6}{691.8}{1936.4}{\mWat}
	\cpd{C00199}{C00199}{1225.7}{1856.5}{1412.3}{1952.5}{\mXulp}
	\cpd[11]{C00011-2}{C00011}{417.5}{2112.3}{489.8}{2168.3}{\mCot}
	\cpd{C05239}{C05239}{513.6}{2097}{604.8}{2183.4}{\mAim}
	\cpd[10]{C00001-5}{C00001}{628}{2108.6}{701}{2172.4}{\mWat}
	\cpd{C00013}{C00013}{1805.6}{2233.3}{1928.6}{2324.7}{\mPpi}
	\cpd[11]{C00014-3}{C00014}{392.4}{2391.4}{464.5}{2468.6}{\mAmm}
	\cpd[11]{C00011-3}{C00011}{488.4}{2401.5}{560}{2457.6}{\mCot}
	\cpd{C05516}{C05516}{584.5}{2373.5}{672.2}{2485.6}{\mAica}
	\cpd{C00117}{C00117}{1219.8}{2533.5}{1389}{2629.5}{\mRibp}
	\cpd[11]{C00001-6}{C00001}{509.4}{2712.4}{581}{2776.7}{\mWat}
	\cpd{C05515}{C05515}{616.8}{2679.4}{720.6}{2809.8}{\mUica}
	\cpd{C00385}{C00385}{652.6}{2983.3}{772.5}{3097.7}{\mXan}
	\cpd[10]{C00001-7}{C00001}{796.7}{3008.6}{868}{3072.4}{\mWat}
	\cpd{C00004-2}{C00004}{892.4}{2955.3}{1196.6}{3125.7}{\mNadh}
	\cpd[14]{C00080-2}{C00080}{556.9}{3016.4}{628.3}{3064.6}{\mHp}
	\cpd{C00262}{C00262}{515.4}{3304.3}{627.7}{3408.6}{\mHyp}
	\cpd{C00003-2}{C00003}{651.9}{3269.4}{955.5}{3443}{\mNad}
	\cpd[10]{C00001-8}{C00001}{979.8}{3324.5}{1051.2}{3388.3}{\mWat}
	\cpd[11]{C00001-9}{C00001}{397.3}{3639.3}{469.4}{3703.6}{\mWat}
	\cpd{C00130}{C00130}{493.8}{3587.6}{661.5}{3754.9}{\mImp}
	\cpd{C00081}{C00081}{251.9}{3899.6}{496.2}{4064.7}{\mItp}
	\cpd[13]{C00014-4}{C00014}{155.6}{3943.6}{227.7}{4020.3}{\mAmm}
	\cpd[11]{C00001-10}{C00001}{541.5}{3949.6}{613.6}{4013.4}{\mWat}
	\cpd{C00002-2}{C00002}{5.7}{4208.5}{333.6}{4320.4}{\mAtp}
	\cpd[11]{C00001-11}{C00001}{357.8}{4232.6}{429.2}{4296.4}{\mWat}
	
	% === === === Lines === === ===
	\draw[e] (C00031.west |- 0,101) -- (R00725.east |- 0,215);
	\draw[e] (C00031.south -| 1285.3,0) -- (R00307.north -| 1285.3,0);
	\draw[e] (C00031.east |- 0,117) -- (R00016.north -| 1521,0);
	\draw[e] (C00660.south -| 1559.6,0) -- (R00016.north -| 1559.6,0);
	\draw[e] (R00725.west |- 0,238) .. controls (715,258) and (650,280) .. (C00092.north -| 608,0);
	\draw[e] (R00725.east |- 0,241) .. controls (890,262) and (945,285) .. (C00104.west |- 0,307);
	\draw[e] (R00307.south -| 1285.3,0) -- (C00095.north -| 1285.3,0);
	\draw[e] (R00016.south -| 1572.5,0) -- (C00103.north -| 1603.5,0);
	\draw[e] (C00092.south -| 591.3,0) -- (R00771.north -| 641,0);
	\draw[e] (C00002.south -| 826.7,0) -- (R00760.north -| 863.7,0);
	\draw[e] (C00095.south -| 1245,0) .. controls (1200,490) and (1100,520) .. (R00760.east |- 0,533.6);
	\draw[e] (C00095.south -| 1313.3,0) -- (R03232.north -| 1358.6,0);
	\draw[e] (C04261.south -| 1414.9,0) -- (R03232.north -| 1385.4,0);
	\draw[e] (C00103.south -| 1712.7,0) -- (R00289.north -| 1794,0);
	\draw[e] (C00075.south -| 1869.6,0) -- (R00289.north -| 1840.6,0);
	\draw[e] (R00289.south -| 1827,0) -- (C00029.north -| 1824.4,0);
	\draw[e] (R00289.east |- 0,539.6) .. controls (1980,548) and (2120,563) .. (2240,580) .. controls (2285,587) and (2320,598) .. (2334,608) .. controls (2355,640) and (2374,690) .. (2374,720) .. controls (2374,770) and (2360,810) .. (2360,838) -- (2360,1950) .. controls (2360,2030) and (2350,2080) .. (2338,2100) .. controls (2325,2135) and (2295,2160) .. (2256,2187) .. controls (2200,2222) and (2100,2255) .. (C00013.east |- 0,2274);
	\draw[e] (C00013.south -| 1813,0) .. controls (1760,2400) and (1695,2470) .. (1672,2562) -- (1672,3513) .. controls (1665,3540) and (1660,3560) .. (1649,3576) .. controls (1630,3600) and (1610,3615) .. (1586,3629) .. controls (1500,3672) and (1366,3714) .. (1232,3745) .. controls (1100,3775) and (800,3805) .. (R00720.east |- 0,3823);
	\draw[e] (R00760.south -| 856.7,0) -- (C00085.north -| 789,0);
	\draw[e] (R00771.south -| 677.4,0) -- (C00085.north -| 724,0);
	\draw[e] (R00760.south -| 896.2,0) -- (C00008.north -| 959.4,0);
	\draw[e] (R03232.south -| 1348.4,0) -- (C00615.north -| 1288.5,0);
	\draw[e] (R03232.south -| 1380.3,0) -- (C01094.north -| 1400,0);
	\draw[e] (C00029.south -| 1829.6,0) -- (R00286.north -| 1838,0);
	\draw[e] (C00001-1.south -| 1598.3,0) .. controls (1620,790) and (1700,825) .. (R00286.west |- 0,847);
	\draw[e] (C00003-1.west |- 0,777) -- (R00286.east |- 0,838.5);
	\draw[e] (C00085.south -| 750.8,0) -- (R00761.north -| 750.8,0);
	\draw[e] (C00009-1.south -| 616.9,0) .. controls (640,780) and (680,815) .. (R00761.north -| 713,0);
	\draw[e] (C00085.south -| 801.8,0) .. controls (850,800) and (950,835) .. (1130,879) .. controls (1190,905) and (1210,950) .. (1220,1009) -- (1220,1294) .. controls (1222,1350) and (1240,1410) .. (R01067.north -| 1264,0);
	\draw[e] (C00118.south -| 1297.4,0) -- (R01067.north -| 1287.4,0);
	\draw[e] (R00761.south -| 742.5,0) -- (C00227.north -| 717,0);
	\draw[e] (R00761.east |- 0,873.8) .. controls (850,910) and (885,935) .. (C00001-3.north -| 900.7,0);
	\draw[e] (R00761.east |- 0,860.5) .. controls (870,885) and (930,900) .. (1000,960) .. controls (1090,1030) and (1168,1080) .. (1168.6,1200) -- (C00279.north -| 1168.6,0);
	\draw[e] (C01094.south -| 1421,0) -- (R02568.north -| 1421,0);
	\draw[e] (R02568.south -| 1400,0) -- (C00111.north -| 1353,0);
	\draw[e] (R02568.south -| 1420,0) -- (C00577.north -| 1420,0);
	\draw[e] (C00111.south -| 1312.7,0) -- (R01015.north -| 1312.7,0);
	\draw[e] (R01015.south -| 1312.7,0) -- (C00118.north -| 1312.7,0);
	\draw[e] (R00286.south -| 1808.3,0) -- (C00004-1.north -| 1748.8,0);
	\draw[e] (R00286.south -| 1841.9,0) -- (C00080-1.north -| 1849,0);
	\draw[e] (R00286.south -| 1872.9,0) -- (C00167.north -| 1936,0);
	\draw[e] (C00167.south -| 2048.6,0) -- (R01384.north -| 2048.6,0);
	\draw[e] (R01384.south -| 2020.8,0) .. controls (1995,1225) and (1975,1250) .. (C00011-1.north -| 1945.9,0);
	\draw[e] (R01384.south -| 2060.9,0) -- (C00190.north -| 2082.8,0);
	\draw[e] (C00001-2.south -| 440,0) .. controls (455,1075) and (475,1105) .. (R07226.north -| 519.3,0);
	\draw[e] (C00343.south -| 548.6,0) -- (R07226.north -| 548.6,0);
	\draw[e] (C00227.south -| 656.4,0) -- (R07226.north -| 576.7,0);
	\draw[e] (C00014-1.south -| 805,0) .. controls (785,1105) and (680,1150) .. (R07226.east |- 0,1166);
	\draw[e] (R07226.south -| 527.7,0) .. controls (505,1225) and (480,1255) .. (C00037.north -| 468.3,0);
	\draw[e] (R07226.south -| 548,0) -- (C00009-2.north -| 548,0);
	\draw[e] (R07226.east |- 0,1173.7) .. controls (780,1190) and (960,1215) .. (C00342.north -| 1028.2,0);
	\draw[e] (C00037.south -| 461.7,0) .. controls (490,1420) and (560,1455) .. (R02729.west |- 0,1479);
	\draw[e] (C00664.south -| 739.3,0) -- (R02729.north -| 682.7,0);
	\draw[e] (R02729.south -| 640,0) -- (C02718.north -| 567,0);
	\draw[e] (R02729.south -| 694.6,0) -- (C00101.north -| 766,0);
	\draw[e] (R01067.south -| 1259.4,0) .. controls (1250,1535) and (1235,1550) .. (C00279.east |- 0,1566);
	\draw[e] (R01067.south -| 1290.9,0) -- (C00231.north -| 1319,0);
	\draw[e] (C00231.south -| 1335.8,0) -- (R01529.north -| 1331,0);
	\draw[e] (R01529.south -| 1326.7,0) -- (C00199.north -| 1323.9,0);
	\draw[e] (C00199.south -| 1317.6,0) -- (R01056.north -| 1317.6,0);
	\draw[e] (R01056.south -| 1316,0) -- (C00117.north -| 1306.3,0);
	\draw[e] (C02718.south -| 537.5,0) -- (R04026.north -| 555,0);
	\draw[e] (R04026.south -| 559.2,0) -- (C06195.north -| 559.2,0);
	\draw[e] (R04026.south -| 580.3,0) -- (C00001-4.north -| 629.4,0);
	\draw[e] (C00014-2.south -| 495.4,0) -- (R04731.north -| 540.3,0);
	\draw[e] (C06195.south -| 559.2,0) -- (R04731.north -| 559.2,0);
	\draw[e] (R04731.south -| 559.2,0) -- (C05239.north -| 559.2,0);
	\draw[e] (R04731.south -| 581,0) -- (C00001-5.north -| 635,0);
	\draw[e] (C00011-2.south -| 477,0) -- (R04732.north -| 539,0);
	\draw[e] (C05239.south -| 559.2,0) -- (R04732.north -| 559.2,0);
	\draw[e] (R04732.south -| 570.5,0) -- (C05516.north -| 603.4,0);
	\draw[e] (C00014-3.south -| 459.6,0) -- (R04857.north -| 526.3,0);
	\draw[e] (C00011-3.south -| 528.4,0) -- (R04857.north -| 543,0);
	\draw[e] (C05516.south -| 596.4,0) -- (R04857.north -| 560,0);
	\draw[e] (R04857.south -| 545.9,0) -- (C00001-6.north -| 545.9,0);
	\draw[e] (R04857.south -| 565.6,0) -- (C05515.north -| 619.6,0);
	\draw[e] (C05515.south -| 689.7,0) -- (R02141.north -| 703.8,0);
	\draw[e] (R02141.south -| 712.5,0) -- (C00385.north -| 712.5,0);
	\draw[e] (R02141.south -| 740,0) .. controls (765,2935) and (800,2965) .. (C00001-7.north -| 815.8,0);
	\draw[e] (C00080-2.south -| 603.5,0) .. controls (615,3105) and (650,3140) .. (R01768.north -| 683.8,0);
	\draw[e] (C00385.south -| 713.2,0) -- (R01768.north -| 713.2,0);
	\draw[e] (C00004-2.west |- 0,3120.6) .. controls (840,3150) and (790,3165) .. (R01768.east |- 0,3181.7);
	\draw[e] (R01768.south -| 687.6,0) -- (C00262.north -| 613.7,0);
	\draw[e] (R01768.south -| 729,0) -- (C00003-2.north -| 754,0);
	\draw[e] (R01768.east |- 0,3205) .. controls (850,3230) and (985,3265) .. (C00001-8.north -| 1002.7,0);
	\draw[e] (C00262.south -| 572,0) -- (R01128.north -| 576,0);
	\draw[e] (C00117.south -| 1292.6,0) .. controls (1275,2720) and (1259.4,2790) .. (1259.4,2857) -- (1259.4,3205) .. controls (1258,3270) and (1235,3320) .. (1200,3348) .. controls (1160,3385) and (1100,3420) .. (1057.7,3442) .. controls (960,3485) and (760,3500) .. (R01128.east |- 0,3512.3);
	\draw[e] (R01128.south -| 576.7,0) -- (C00130.north -| 576.7,0);
	\draw[e] (R01128.west |- 0,3539.9) .. controls (490,3580) and (455,3610) .. (C00001-9.north -| 449.6,0);
	\draw[e] (C00130.south -| 577.8,0) -- (R00720.north -| 577.8,0);
	\draw[e] (R00720.south -| 545.3,0) -- (C00081.north -| 484.7,0);
	\draw[e] (R00720.south -| 577.8,0) -- (C00001-10.north -| 577.8,0);
	\draw[e] (C00081.north -| 365.5,0) -- (352.5,3698) -- (352.5,465) .. controls (352.5,420) and (375,360) .. (400,326) .. controls (425,295) and (450,285) .. (470,275) .. controls (530,255) and (650,240) .. (R00725.west |- 0,232);
	\draw[e] (C00014-4.south -| 214.3,0) -- (R00088.north -| 266.6,0);
	\draw[e] (C00081.south -| 323.4,0) -- (R00088.north -| 296.6,0);
	\draw[e] (R00088.south -| 259.6,0) -- (C00002-2.north -| 220,0);
	\draw[e] (R00088.south -| 304.9,0) -- (C00001-11.north -| 366.7,0);
	
\end{tikzpicture}
\end{document}
